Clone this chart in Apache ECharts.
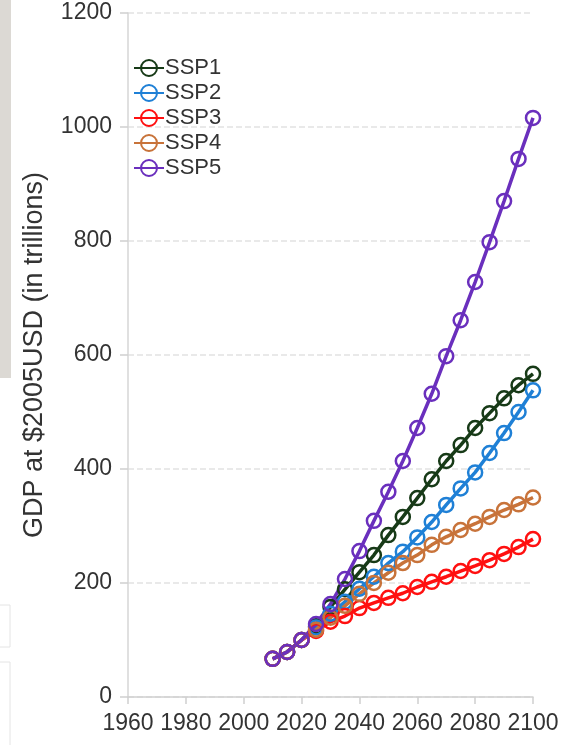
<!DOCTYPE html>
<html>
<head>
<meta charset="utf-8">
<script src="https://cdn.jsdelivr.net/npm/echarts@6/dist/echarts.min.js"></script>
<style>
html,body{margin:0;padding:0;background:#fff;}
#c{width:567px;height:745px;}
</style>
</head>
<body>
<div id="c"></div>
<script>
var years = [2010,2015,2020,2025,2030,2035,2040,2045,2050,2055,2060,2065,2070,2075,2080,2085,2090,2095,2100];
var seriesNames = ['SSP1','SSP2','SSP3','SSP4','SSP5'];
var ssp1 = [67,79,100,124,158,189,219,249,284,316,349,382,414,442,472,498,524,547,567];
var ssp2 = [67,79,100,122,146,167,190,211,235,255,280,307,337,366,394,428,463,500,538];
var ssp3 = [67,79,100,116,132,142,156,165,174,182,193,202,211,221,230,240,251,263,277];
var ssp4 = [67,79,100,118,139,160,181,200,218,235,249,267,281,293,304,316,328,338,350];
var ssp5 = [67,79,100,128,163,207,256,309,360,414,472,532,598,661,728,798,870,944,1016];
var xTicks = [1960,1980,2000,2020,2040,2060,2080,2100];
var yTicks = [0,200,400,600,800,1000,1200];
var colors = ['#173a17','#1f80d6','#ff1010','#c8733a','#6a2fbd'];
var values = [ssp1, ssp2, ssp3, ssp4, ssp5];

function pairs(v){ return years.map(function(y,i){ return [y, v[i]]; }); }

var chart = echarts.init(document.getElementById('c'), null, {renderer:'canvas'});
var font = 'Liberation Sans, Arial, sans-serif';
chart.setOption({
  animation:false,
  backgroundColor:'#ffffff',
  textStyle:{fontFamily:font},
  graphic:[
    {type:'rect', shape:{x:0,y:0,width:11,height:378}, style:{fill:'#dcd9d4'}},
    {type:'rect', shape:{x:-1,y:605,width:11,height:42}, style:{fill:'none', stroke:'#e4e4e4', lineWidth:1}},
    {type:'rect', shape:{x:-1,y:662,width:11,height:90}, style:{fill:'none', stroke:'#e4e4e4', lineWidth:1}}
  ],
  grid:{left:128, right:34, top:13, bottom:48, containLabel:false},
  legend:{
    data:seriesNames,
    orient:'vertical',
    left:128, top:52,
    itemWidth:30, itemHeight:20, itemGap:3,
    textStyle:{fontSize:22, color:'#333', fontFamily:font, padding:[0,0,0,-4]}
  },
  xAxis:{
    type:'value', min:xTicks[0], max:xTicks[xTicks.length-1], interval:20,
    axisLine:{show:true, lineStyle:{color:'#cfcfcf', width:1.5}},
    axisTick:{show:true, length:7, lineStyle:{color:'#cfcfcf', width:1.5}},
    axisLabel:{fontSize:23, color:'#333', margin:15, fontFamily:font,
      formatter:function(v){return String(v);}},
    splitLine:{show:false}
  },
  yAxis:{
    type:'value', min:yTicks[0], max:yTicks[yTicks.length-1], interval:200,
    name:'GDP at $2005USD (in trillions)',
    nameLocation:'middle', nameGap:80, nameRotate:90,
    nameTextStyle:{fontSize:27, color:'#333', fontFamily:font},
    axisLine:{show:true, lineStyle:{color:'#d6d6d6', width:1.5}},
    axisTick:{show:true, length:8, lineStyle:{color:'#cfcfcf', width:1.5}},
    axisLabel:{fontSize:23, color:'#333', margin:16, fontFamily:font,
      formatter:function(v){return String(v);}},
    splitLine:{show:true, lineStyle:{color:'#e2e2e2', type:'dashed', width:1.5}}
  },
  series: seriesNames.map(function(n,i){
    return {
      name:n, type:'line', data:pairs(values[i]),
      symbol:'circle', symbolSize:14, showSymbol:true,
      lineStyle:{color:colors[i], width:3.5},
      itemStyle:{color:'rgba(255,255,255,0)', borderColor:colors[i], borderWidth:2.5, opacity:1},
      emphasis:{disabled:true}
    };
  })
});
</script>
</body>
</html>
